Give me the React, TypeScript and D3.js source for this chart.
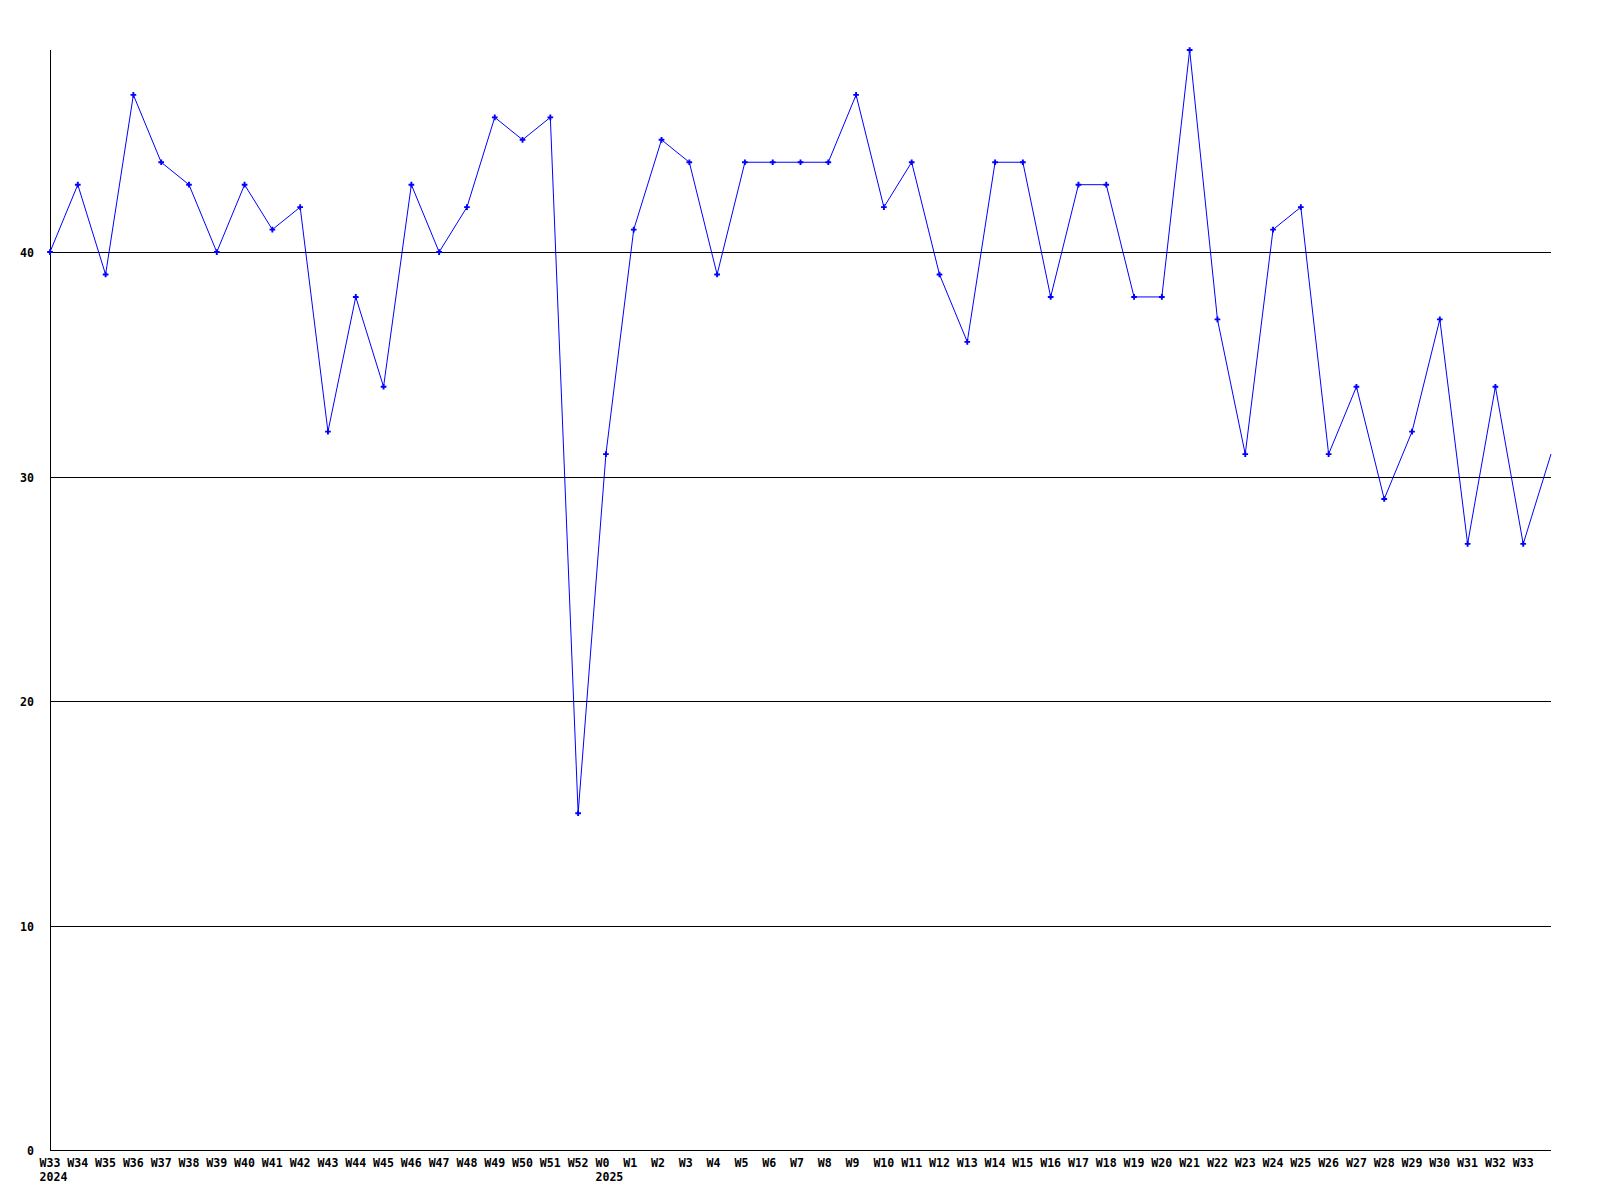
import { useEffect, useRef } from 'react';
import * as d3 from 'd3';

// Semaines (W33 2024 -> W33 2025) ; le dernier point n'a pas d'étiquette
const weeks = [
  'W33', 'W34', 'W35', 'W36', 'W37', 'W38', 'W39', 'W40', 'W41', 'W42',
  'W43', 'W44', 'W45', 'W46', 'W47', 'W48', 'W49', 'W50', 'W51', 'W52',
  'W0', 'W1', 'W2', 'W3', 'W4', 'W5', 'W6', 'W7', 'W8', 'W9',
  'W10', 'W11', 'W12', 'W13', 'W14', 'W15', 'W16', 'W17', 'W18', 'W19',
  'W20', 'W21', 'W22', 'W23', 'W24', 'W25', 'W26', 'W27', 'W28', 'W29',
  'W30', 'W31', 'W32', 'W33', '',
];

const values = [
  40, 43, 39, 47, 44, 43, 40, 43, 41, 42,
  32, 38, 34, 43, 40, 42, 46, 45, 46, 15,
  31, 41, 45, 44, 39, 44, 44, 44, 44, 47,
  42, 44, 39, 36, 44, 44, 38, 43, 43, 38,
  38, 49, 37, 31, 41, 42, 31, 34, 29, 32,
  37, 27, 34, 27, 31,
];

// Année affichée sous la première semaine de chaque année
const yearLabels = [
  { index: 0, label: '2024' },
  { index: 20, label: '2025' },
];

const yTicks = [0, 10, 20, 30, 40];

export default function App() {
  const chartRef = useRef<SVGSVGElement | null>(null);

  useEffect(() => {
    document.body.style.margin = '0';
    document.body.style.overflow = 'hidden';
    if (!chartRef.current) return;
    const svg = d3.select(chartRef.current);
    svg.selectAll('*').remove();

    const left = 50;
    const right = 1551;
    const top = 50;
    const bottom = 1150;
    const font = "'DejaVu Sans Mono', monospace";
    const fontSize = '11.6px';
    const charW = 7;
    // les étiquettes commencent à 1,5 caractère à gauche du point
    const labelOffset = 1.5 * charW;

    const x = d3.scaleLinear().domain([0, values.length - 1]).range([left, right]);
    const y = d3.scaleLinear().domain([0, 49]).range([bottom, top]);

    // Lignes de grille horizontales
    svg.append('g')
      .selectAll('line')
      .data(yTicks.filter(d => d > 0))
      .enter()
      .append('line')
      .attr('x1', left)
      .attr('x2', right)
      .attr('y1', d => Math.round(y(d)) + 0.5)
      .attr('y2', d => Math.round(y(d)) + 0.5)
      .attr('stroke', '#000')
      .attr('stroke-width', 1);

    // Axes
    svg.append('line')
      .attr('x1', left + 0.5).attr('x2', left + 0.5)
      .attr('y1', top).attr('y2', bottom + 0.5)
      .attr('stroke', '#000');
    svg.append('line')
      .attr('x1', left).attr('x2', right)
      .attr('y1', bottom + 0.5).attr('y2', bottom + 0.5)
      .attr('stroke', '#000');

    // Étiquettes Y
    svg.append('g')
      .selectAll('text')
      .data(yTicks)
      .enter()
      .append('text')
      .attr('x', 34)
      .attr('y', d => y(d) + 5)
      .attr('text-anchor', 'end')
      .style('font-family', font)
      .style('font-size', fontSize)
      .style('font-weight', 'bold')
      .text(d => d);

    // Étiquettes X
    svg.append('g')
      .selectAll('text')
      .data(weeks)
      .enter()
      .append('text')
      .attr('x', (_, i) => x(i) - labelOffset)
      .attr('y', 1167)
      .attr('text-anchor', 'start')
      .style('font-family', font)
      .style('font-size', fontSize)
      .style('font-weight', 'bold')
      .text(d => d);

    svg.append('g')
      .selectAll('text')
      .data(yearLabels)
      .enter()
      .append('text')
      .attr('x', d => x(d.index) - labelOffset)
      .attr('y', 1181)
      .attr('text-anchor', 'start')
      .style('font-family', font)
      .style('font-size', fontSize)
      .style('font-weight', 'bold')
      .text(d => d.label);

    // Courbe
    const line = d3.line<number>()
      .x((_, i) => x(i))
      .y(d => y(d));

    svg.append('path')
      .datum(values)
      .attr('d', line)
      .attr('fill', 'none')
      .attr('stroke', '#0000ff')
      .attr('stroke-width', 1);

    // Marqueurs
    const symbol = d3.symbol().type(d3.symbolCross).size(18);
    svg.append('g')
      .selectAll('path')
      .data(values.slice(0, values.length - 1))
      .enter()
      .append('path')
      .attr('transform', (d, i) => `translate(${x(i)},${y(d)})`)
      .attr('d', symbol)
      .attr('fill', '#0000ff');
  }, []);

  return (
    <svg
      ref={chartRef}
      width={1600}
      height={1200}
      style={{ display: 'block', background: '#fff' }}
    />
  );
}
